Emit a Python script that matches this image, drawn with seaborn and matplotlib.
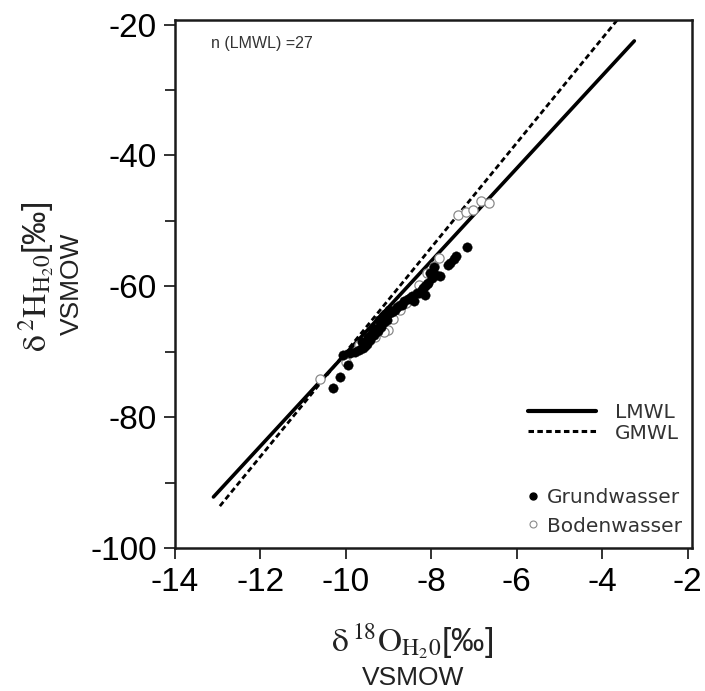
import matplotlib
matplotlib.use("Agg")
import matplotlib.pyplot as plt
from matplotlib.lines import Line2D
import seaborn as sns
import pandas as pd

# ---- data ----
grund_x = [-10.30, -10.14, -9.95, -10.07, -9.91, -9.79, -9.70, -9.60, -9.56, -9.50,
           -9.44, -9.40, -9.35, -9.30, -9.25, -9.20, -9.17, -9.13, -9.10, -9.05,
           -9.02, -8.98, -8.93, -8.86, -8.80, -8.74, -8.68, -8.63, -8.55, -8.51,
           -8.45, -8.33, -8.28, -8.22, -8.20, -8.15, -8.10, -8.08, -8.04, -7.98,
           -7.93, -7.89, -7.79, -7.62, -7.57, -7.48, -7.42, -7.16, -9.62, -9.48,
           -9.36, -9.22, -9.08, -8.40, -8.15]
grund_y = [-75.5, -73.8, -72.0, -70.5, -70.2, -70.0, -69.8, -69.5, -69.2, -68.8,
           -68.2, -67.2, -67.5, -66.8, -66.9, -66.0, -66.2, -64.6, -65.5, -65.1,
           -64.3, -63.6, -64.0, -63.6, -63.2, -62.8, -62.8, -62.3, -62.0, -61.8,
           -61.5, -61.0, -61.1, -60.5, -60.3, -60.0, -59.6, -59.5, -58.0, -58.8,
           -57.0, -58.3, -58.5, -56.8, -56.5, -55.8, -55.4, -54.0, -68.5, -67.8,
           -66.3, -65.2, -64.2, -62.2, -61.3]
boden_x = [-10.61, -9.99, -9.70, -9.45, -9.33, -9.20, -9.02, -8.90, -8.74, -8.60,
           -8.30, -8.10, -7.95, -7.82, -7.38, -7.20, -7.03, -6.83, -6.64, -9.10]
boden_y = [-74.1, -71.5, -69.0, -68.0, -67.7, -66.8, -66.7, -65.0, -63.6, -62.5,
           -59.8, -58.0, -56.9, -55.7, -49.1, -48.6, -48.3, -47.0, -47.3, -67.0]

lmwl_x = [-13.1, -3.25]
lmwl_y = [-92.2, -22.5]
gmwl_x = [-12.95, -3.65]
gmwl_y = [-93.6, -19.3]

x_ticks = [-14, -12, -10, -8, -6, -4, -2]
y_ticks = [-100, -80, -60, -40, -20]
y_minor = [-90, -70, -50, -30]

# ---- style ----
sns.set_theme(style="ticks")
plt.rcParams["font.family"] = ["Liberation Sans", "DejaVu Sans"]
plt.rcParams["mathtext.fontset"] = "stix"

fig = plt.figure(figsize=(7.05, 6.91), dpi=100)
ax = fig.add_axes([175 / 705, 1 - 548 / 691, (692 - 175) / 705, (548 - 20) / 691])

gdf = pd.DataFrame({"x": grund_x, "y": grund_y})
bdf = pd.DataFrame({"x": boden_x, "y": boden_y})
ldf = pd.DataFrame({"x": lmwl_x, "y": lmwl_y})
mdf = pd.DataFrame({"x": gmwl_x, "y": gmwl_y})

sns.lineplot(data=ldf, x="x", y="y", ax=ax, color="black", lw=2.6, zorder=2)
sns.lineplot(data=mdf, x="x", y="y", ax=ax, color="black", lw=2.0, zorder=2,
             linestyle=(0, (2.0, 1.2)))
sns.scatterplot(data=bdf, x="x", y="y", ax=ax, s=44, marker="o",
                facecolor="white", edgecolor="#8a8a8a", linewidth=0.9, zorder=3)
sns.scatterplot(data=gdf, x="x", y="y", ax=ax, s=46, marker="o",
                color="black", edgecolor="black", linewidth=0.3, zorder=4)

ax.set_xlim(-14, -1.9)
ax.set_ylim(-100, -19.3)
ax.set_xticks(x_ticks)
ax.set_xticklabels([str(v) for v in x_ticks])
ax.set_yticks(y_ticks)
ax.set_yticklabels([str(v) for v in y_ticks])
ax.set_yticks(y_minor, minor=True)
ax.tick_params(axis="x", which="major", labelsize=24, length=8, width=1.3,
               direction="out", color="#222222", labelcolor="black", pad=6)
ax.tick_params(axis="y", which="major", labelsize=24, length=8, width=1.3,
               direction="out", color="#222222", labelcolor="black", pad=5)
ax.tick_params(axis="y", which="minor", length=7, width=1.3, direction="out",
               color="#222222")
ax.set_xlabel("")
ax.set_ylabel("")
for sp in ax.spines.values():
    sp.set_visible(True)
    sp.set_linewidth(1.8)
    sp.set_color("#1a1a1a")

ax.text(0.07, 0.955, "n (LMWL) =27", transform=ax.transAxes, fontsize=11.5,
        color="#333333", va="center", ha="left")

# legends
leg_font = {"family": "DejaVu Sans", "size": 14.5}
h1 = [Line2D([], [], color="black", lw=3.0),
      Line2D([], [], color="black", lw=2.2, linestyle=(0, (1.8, 1.1)))]
leg1 = ax.legend(h1, ["LMWL", "GMWL"], loc="center left",
                 bbox_to_anchor=(528 / 705, 1 - 423 / 691),
                 bbox_transform=fig.transFigure, frameon=False, prop=leg_font,
                 handlelength=3.4, handletextpad=0.9, labelspacing=0.05,
                 borderpad=0, borderaxespad=0, labelcolor="#333333")
ax.add_artist(leg1)
h2 = [Line2D([], [], color="black", marker="o", ls="none", markersize=5),
      Line2D([], [], color="#8a8a8a", marker="o", ls="none", markersize=5,
             markerfacecolor="white", markeredgewidth=0.8)]
ax.legend(h2, ["Grundwasser", "Bodenwasser"], loc="center left",
          bbox_to_anchor=(527 / 705, 1 - 512 / 691),
          bbox_transform=fig.transFigure, frameon=False, prop=leg_font,
          handlelength=0.6, handletextpad=0.4, labelspacing=0.45,
          borderpad=0, borderaxespad=0, labelcolor="#333333")

# axis labels
fig.text(412 / 705, 1 - 641 / 691,
         r"$\mathrm{\delta}\,^{18}\mathrm{O}_{\mathrm{H}_{2}\mathrm{0}}$" + "[‰]",
         fontsize=24, ha="center", va="center", color="#222222")
fig.text(413 / 705, 1 - 678 / 691, "VSMOW", fontsize=19, ha="center",
         va="center", color="#222222")
fig.text(37 / 705, 1 - 277 / 691,
         r"$\mathrm{\delta}\,^{2}\mathrm{H}_{\mathrm{H}_{2}\mathrm{0}}$" + "[‰]",
         fontsize=24, ha="center", va="center", rotation=90, color="#222222")
fig.text(72 / 705, 1 - 284 / 691, "VSMOW", fontsize=19, ha="center",
         va="center", rotation=90, color="#222222")

fig.savefig("out.png", dpi=100)
